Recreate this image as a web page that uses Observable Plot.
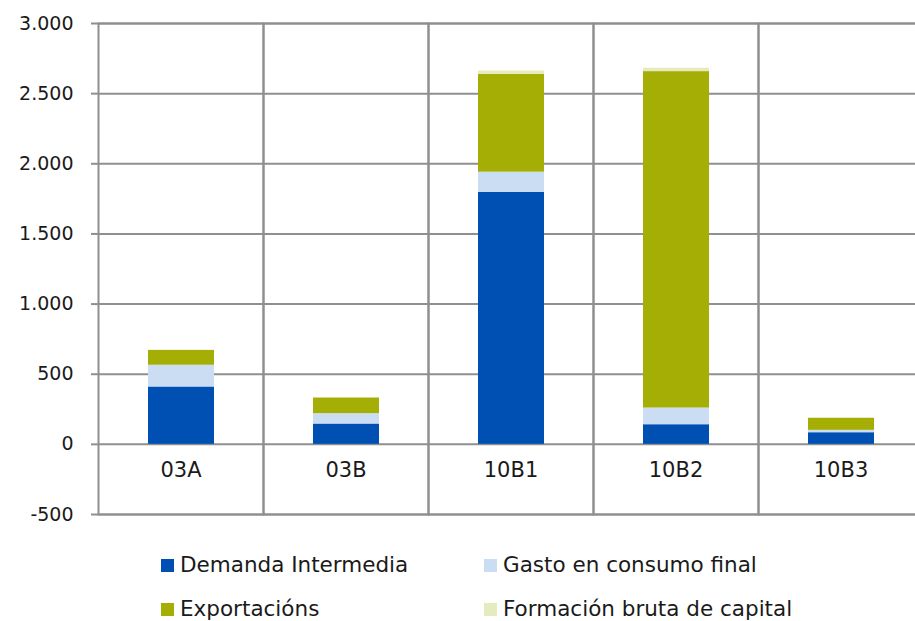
<!DOCTYPE html>
<html>
<head>
<meta charset="utf-8">
<script src="https://cdn.jsdelivr.net/npm/d3@7"></script>
<script src="https://cdn.jsdelivr.net/npm/@observablehq/plot@0.6"></script>
<style>
  html, body { margin: 0; padding: 0; background: #fff; overflow: hidden; }
  #wrap { position: relative; width: 915px; height: 621px; font-family: "DejaVu Sans", sans-serif; color: #1a1a1a; }
  #wrap svg { overflow: hidden; }
  .legend { position: absolute; left: 0; top: 0; width: 915px; height: 621px; pointer-events: none; }
  .item { position: absolute; display: flex; align-items: center; font-size: 21.5px; line-height: 28px; white-space: nowrap; }
  .sw { width: 13px; height: 13px; margin-right: 6px; display: inline-block; }
</style>
</head>
<body>
<div id="wrap"></div>
<script>
const categories = ["03A", "03B", "10B1", "10B2", "10B3"];
const series = ["Demanda Intermedia", "Gasto en consumo final", "Exportacións", "Formación bruta de capital"];
const demanda = [409, 145, 1797, 140, 83];
const gasto = [155, 74, 143, 119, 17];
const exportacions = [105, 112, 698, 2398, 86];
const formacion = [3, 2, 23, 24, 2];
const colors = ["#0050b4", "#cbddf2", "#a5ae05", "#e5eabf"];
const yTicks = [-500, 0, 500, 1000, 1500, 2000, 2500, 3000];

const seriesValues = [demanda, gasto, exportacions, formacion];
const data = [];
categories.forEach((c, i) => {
  series.forEach((s, j) => data.push({category: c, series: s, value: seriesValues[j][i]}));
});

const fmt = d => d3.format(",")(d).replace(/,/g, ".").replace("−", "-");
const grid = "#8f8f8f";

const chart = Plot.plot({
  width: 915,
  height: 536,
  marginLeft: 97,
  marginRight: -9,
  marginTop: 23,
  marginBottom: 22,
  style: {fontFamily: "'DejaVu Sans', sans-serif", fontSize: "19px", background: "white", overflow: "hidden"},
  fx: {domain: categories, padding: 0, axis: null},
  x: {domain: ["bar"], paddingInner: 0.6, paddingOuter: 0.3, axis: null},
  y: {domain: [-500, 3000], label: null},
  color: {domain: series, range: colors},
  marks: [
    Plot.ruleY(yTicks, {stroke: grid, strokeWidth: 2}),
    Plot.frame({stroke: grid, strokeWidth: 2}),
    Plot.barY(data, {fx: "category", x: () => "bar", y: "value", fill: "series"}),
    Plot.text(categories, {fx: d => d, text: d => d, frameAnchor: "bottom", dy: -38, fill: "#1a1a1a", fontSize: 21}),
    Plot.axisY({ticks: yTicks, tickFormat: fmt, tickSize: 7, tickPadding: 18, stroke: grid, strokeWidth: 2, fill: "#1a1a1a", fontSize: 19, label: null})
  ]
});

const wrap = document.getElementById("wrap");
wrap.appendChild(chart);

const legend = document.createElement("div");
legend.className = "legend";
const pos = [[161, 551], [484, 551], [161, 595], [484, 595]];
series.forEach((s, i) => {
  const it = document.createElement("div");
  it.className = "item";
  it.style.left = pos[i][0] + "px";
  it.style.top = pos[i][1] + "px";
  const sw = document.createElement("span");
  sw.className = "sw";
  sw.style.background = colors[i];
  const tx = document.createElement("span");
  tx.textContent = s;
  it.appendChild(sw);
  it.appendChild(tx);
  legend.appendChild(it);
});
wrap.appendChild(legend);
</script>
</body>
</html>
